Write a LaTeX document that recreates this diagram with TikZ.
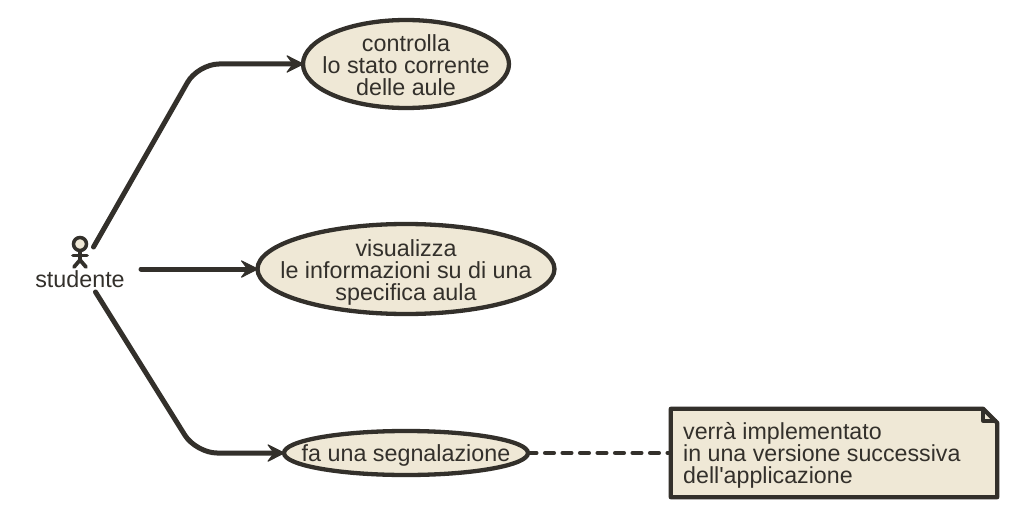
\documentclass[tikz,border=0pt]{standalone}
\usepackage{fontspec}
\setmainfont{Liberation Sans}[Ligatures=TeXOff]
\usetikzlibrary{arrows.meta,shapes.geometric,calc}
\definecolor{ink}{HTML}{33302B}
\definecolor{paper}{HTML}{EFE8D6}
\tikzset{
  x=1pt,y=-1pt,
  uc/.style={ellipse,draw=ink,fill=paper,line width=4.3pt,inner sep=0pt},
  uctext/.style={text=ink,align=center,inner sep=0pt,font=\fontsize{23.3}{22}\selectfont},
  lnk/.style={draw=ink,line width=5pt,rounded corners=21pt,line cap=round,shorten >=-3pt,-{Stealth[length=19pt,width=19pt,inset=7pt,line width=1pt,round]}},
  notelnk/.style={draw=ink,line width=4.6pt,line cap=round,dash pattern=on 8.5pt off 9pt,dash phase=2.4pt},
  notebox/.style={inner sep=0pt,minimum width=326pt,minimum height=88pt},
  notetext/.style={text=ink,align=left,anchor=west,inner sep=0pt,font=\fontsize{23.2}{22}\selectfont},
  stroke/.style={draw=ink,line width=3.8pt,line cap=round,line join=round}
}
\begin{document}
\begin{tikzpicture}
\useasboundingbox (0,0) rectangle (1014,516);
\fill[white] (0,0) rectangle (1014,516);
\node[uc,minimum width=206pt,minimum height=88pt,label={[uctext,name=ta,yshift=-1pt]center:{controlla\\lo stato corrente\\delle aule}}] (a) at (406,64) {};
\node[uc,minimum width=297pt,minimum height=90pt,label={[uctext,name=tb,yshift=-3.5pt]center:{visualizza\\le informazioni su di una\\specifica aula}}] (b) at (406,269) {};
\node[uc,minimum width=244pt,minimum height=44pt,label={[uctext,name=tc,yshift=-2pt]center:{fa una segnalazione}}] (c) at (406,453) {};
\node[notebox] (n) at (834,453) {};
\draw[notelnk] (c.east) -- (n.west);
\path[fill=paper,draw=ink,line width=4.3pt,line join=round]
  (n.north west) -- ($(n.north east)+(-14,0)$) -- ($(n.north east)+(0,14)$) -- (n.south east) -- (n.south west) -- cycle;
\path[draw=ink,line width=4pt,line join=round]
  ($(n.north east)+(-14,0)$) -- ($(n.north east)+(-14,12)$) -- ($(n.north east)+(0,12)$);
\node[notetext] (ntext) at (683,455) {verrà implementato\\in una versione successiva\\dell'applicazione};
% actor
\node[circle,draw=ink,fill=paper,line width=3.5pt,minimum size=13pt,inner sep=0pt] (head) at (80,244) {};
\coordinate (hip) at (80,260);
\draw[stroke] (head.south) -- (hip);
\draw[stroke] (73,255.5) -- (87,255.5);
\draw[stroke] (74,267) -- (hip) -- (86,267);
\node[text=ink,font=\fontsize{23.3}{26}\selectfont,inner sep=0pt] (lab) at (80,279) {studente};
\coordinate (s1) at (93.5,247);
\coordinate (s2) at (141,269);
\coordinate (s3) at (95.5,292);
\draw[lnk] (s1) -- (198,64) -- (a.west);
\draw[lnk] (s2) -- (b.west);
\draw[lnk] (s3) -- (196,453) -- (c.west);
\end{tikzpicture}
\end{document}
